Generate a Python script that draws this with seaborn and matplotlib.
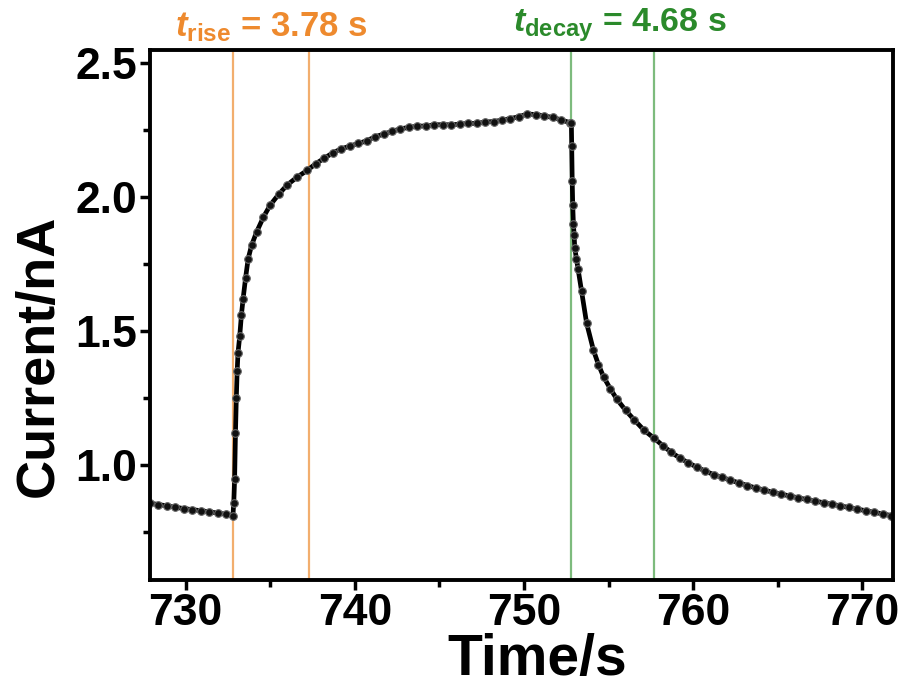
import pandas as pd
import matplotlib.pyplot as plt
import seaborn as sns

# --- DATA ---
time_s = [727.9, 728.4, 728.9, 729.4, 729.9, 730.4, 730.9, 731.4, 731.9, 732.4, 732.8,
          732.85, 732.9, 732.95, 733.0, 733.05, 733.1, 733.2, 733.3, 733.4, 733.55, 733.7, 733.9,
          734.2, 734.6, 735.0, 735.5, 736.0, 736.6,
          737.2, 737.7, 738.2, 738.7, 739.2, 739.7, 740.2, 740.7, 741.2, 741.7, 742.2, 742.7,
          743.2, 743.7, 744.2, 744.7, 745.2, 745.7, 746.2, 746.7, 747.2, 747.7, 748.2, 748.7,
          749.2, 749.7, 750.2, 750.7, 751.2, 751.7, 752.2, 752.7, 752.8,
          752.82, 752.85, 752.88, 752.92, 752.96, 753.0, 753.1, 753.2, 753.4, 753.7, 754.1,
          754.4, 754.7, 755.1, 755.5, 756.0, 756.5, 757.1,
          757.7, 758.2, 758.7, 759.2, 759.7, 760.2, 760.7, 761.2, 761.7, 762.2, 762.7, 763.2,
          763.7, 764.2, 764.7, 765.2, 765.7, 766.2, 766.7, 767.2, 767.7, 768.2, 768.7, 769.2,
          769.7, 770.2, 770.7, 771.2, 771.7, 771.9]
current_nA = [0.858, 0.853, 0.848, 0.843, 0.838, 0.834, 0.830, 0.826, 0.821, 0.817, 0.812,
              0.86, 0.95, 1.12, 1.25, 1.35, 1.42, 1.48, 1.56, 1.62, 1.70, 1.77, 1.82,
              1.87, 1.925, 1.97, 2.01, 2.045, 2.075,
              2.10, 2.125, 2.145, 2.165, 2.18, 2.19, 2.20, 2.21, 2.225, 2.235, 2.245, 2.255,
              2.26, 2.265, 2.265, 2.27, 2.27, 2.27, 2.272, 2.275, 2.275, 2.28, 2.282, 2.287,
              2.293, 2.30, 2.31, 2.308, 2.303, 2.297, 2.288, 2.278, 2.275,
              2.19, 2.06, 1.97, 1.90, 1.86, 1.81, 1.77, 1.73, 1.65, 1.53, 1.43,
              1.375, 1.33, 1.285, 1.245, 1.205, 1.17, 1.13,
              1.10, 1.073, 1.048, 1.027, 1.009, 0.993, 0.978, 0.965, 0.954, 0.944, 0.934, 0.924,
              0.915, 0.907, 0.899, 0.892, 0.885, 0.878, 0.872, 0.866, 0.860, 0.854, 0.848, 0.842,
              0.836, 0.830, 0.824, 0.818, 0.812, 0.808]

rise_window = [732.8, 737.3]
decay_window = [752.8, 757.7]
rise_label = r"$\mathit{t}_{\mathrm{rise}}$ = 3.78 s"
decay_label = r"$\mathit{t}_{\mathrm{decay}}$ = 4.68 s"

ORANGE_TXT, ORANGE_BOX = '#EE8A2E', '#F2AE6E'
GREEN_TXT, GREEN_BOX = '#2B8A2B', '#7DBB7D'

sns.set_theme(style="ticks")
plt.rcParams['font.family'] = ['Liberation Sans', 'DejaVu Sans']
plt.rcParams['font.weight'] = 'bold'
plt.rcParams['text.color'] = 'black'
plt.rcParams['axes.labelcolor'] = 'black'
plt.rcParams['xtick.color'] = 'black'
plt.rcParams['ytick.color'] = 'black'
plt.rcParams['mathtext.fontset'] = 'custom'
plt.rcParams['mathtext.it'] = 'Liberation Sans:italic:bold'
plt.rcParams['mathtext.rm'] = 'Liberation Sans:bold'
plt.rcParams['mathtext.bf'] = 'Liberation Sans:bold'

df = pd.DataFrame({'Time': time_s, 'Current': current_nA})

fig = plt.figure(figsize=(9.01, 6.89), dpi=100)
ax = fig.add_axes([0.1665, 0.158, 0.8245, 0.7695])

sns.lineplot(data=df, x='Time', y='Current', ax=ax, color='black', lw=3.4,
             marker='o', markersize=5.5, markerfacecolor='#111111',
             markeredgecolor='#666666', markeredgewidth=0.8)

# response windows (full-height open boxes)
for (x0, x1), c in [(rise_window, ORANGE_BOX), (decay_window, GREEN_BOX)]:
    ax.axvspan(x0, x1, ymin=0, ymax=1, facecolor='none', edgecolor=c, lw=1.6, zorder=1)

ax.text(sum(rise_window) / 2, 1.012, rise_label, transform=ax.get_xaxis_transform(),
        ha='center', va='bottom', fontsize=25, color=ORANGE_TXT, fontweight='bold')
ax.text(sum(decay_window) / 2 + 0.4, 1.012, decay_label, transform=ax.get_xaxis_transform(),
        ha='center', va='bottom', fontsize=24.5, color=GREEN_TXT, fontweight='bold')

ax.set_xlim(727.9, 771.8)
ax.set_ylim(0.571, 2.549)
ax.set_xticks([730, 740, 750, 760, 770])
ax.set_xticks([735, 745, 755, 765], minor=True)
ax.set_yticks([1.0, 1.5, 2.0, 2.5])
ax.set_yticks([0.75, 1.25, 1.75, 2.25], minor=True)
ax.set_yticklabels(['1.0', '1.5', '2.0', '2.5'])

ax.tick_params(axis='both', which='major', direction='out', length=7.5, width=2.5,
               labelsize=32, pad=2, top=False, right=False)
ax.tick_params(axis='both', which='minor', direction='out', length=5, width=2.5,
               top=False, right=False)
for lab in ax.get_xticklabels() + ax.get_yticklabels():
    lab.set_fontweight('bold')
for sp in ax.spines.values():
    sp.set_linewidth(2.8)
    sp.set_color('black')

ax.set_xlabel("Time/s", fontsize=41, fontweight='bold', labelpad=-1)
ax.set_ylabel("Current/nA", fontsize=39, fontweight='bold', labelpad=8)
ax.xaxis.label.set_x(0.521)
ax.yaxis.label.set_y(0.423)

fig.savefig('out.png', dpi=100)
